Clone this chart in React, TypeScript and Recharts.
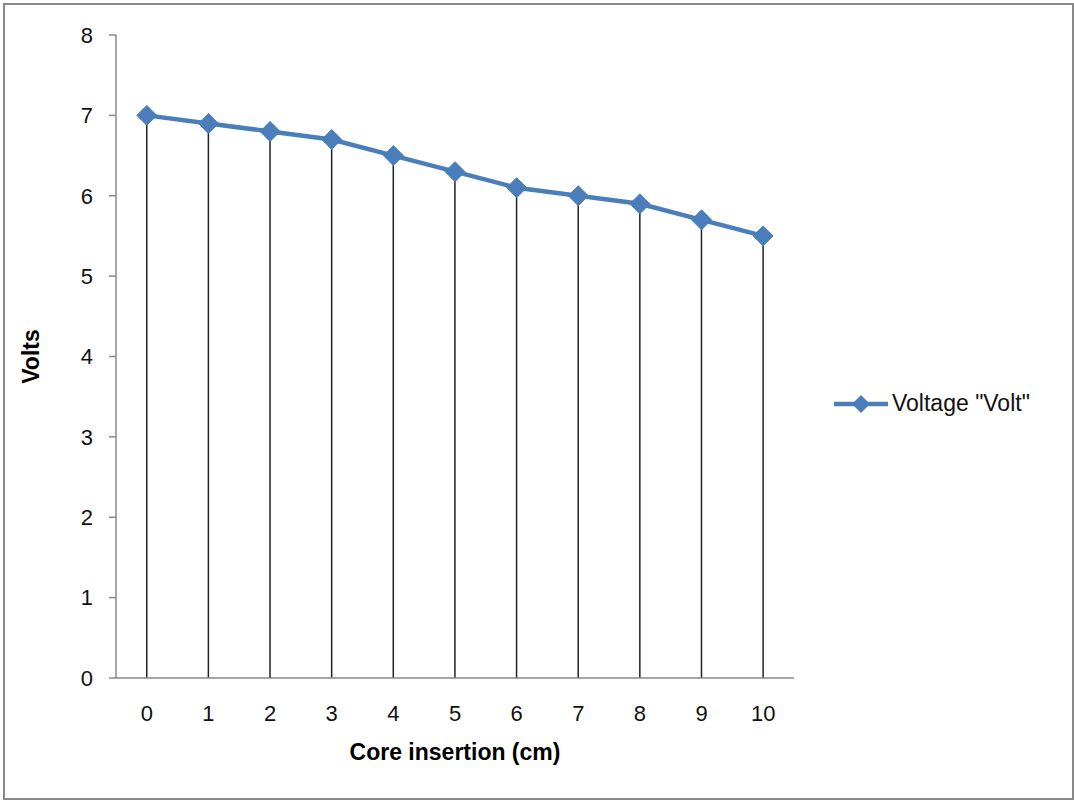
import React from "react"
import {
  ComposedChart,
  Line,
  Bar,
  XAxis,
  YAxis,
  Legend,
} from "recharts"

const insertion = ["0", "1", "2", "3", "4", "5", "6", "7", "8", "9", "10"]
const voltage = [7.0, 6.9, 6.8, 6.7, 6.5, 6.3, 6.1, 6.0, 5.9, 5.7, 5.5]
const yTicks = [0, 1, 2, 3, 4, 5, 6, 7, 8]
const seriesName = 'Voltage "Volt"'

const BLUE = "#4A7EBB"
const AXIS = "#898989"
const FONT = "'Liberation Sans', Arial, sans-serif"

const data = insertion.map((c, i) => ({ cm: c, volt: voltage[i] }))

// diamond marker like the Excel one
const Diamond = (props: any) => {
  const { cx, cy } = props
  if (cx == null || cy == null) return null
  const r = 10
  return (
    <polygon
      points={`${cx},${cy - r} ${cx + r},${cy} ${cx},${cy + r} ${cx - r},${cy}`}
      fill={BLUE}
      stroke={BLUE}
      strokeWidth={1}
    />
  )
}

const LegendBox = () => (
  <div style={{ display: "flex", alignItems: "center", fontFamily: FONT, fontSize: 23, color: "#111" }}>
    <svg width={58} height={24} style={{ marginRight: 2 }}>
      <line x1={2} y1={12} x2={56} y2={12} stroke={BLUE} strokeWidth={4.5} />
      <polygon points="29,3 38,12 29,21 20,12" fill={BLUE} />
    </svg>
    <span>{seriesName}</span>
  </div>
)

export default function App() {
  return (
    <div style={{ position: "absolute", left: 0, top: 0, width: 1074, height: 801, background: "#fff" }}>
      <div
        style={{
          position: "absolute",
          left: 3,
          top: 3,
          width: 1071,
          height: 797,
          border: `2px solid ${AXIS}`,
          boxSizing: "border-box",
        }}
      />
      <ComposedChart
        width={1074}
        height={801}
        data={data}
        margin={{ top: 35, right: 280, left: 56, bottom: 33 }}
        style={{ position: "absolute", left: 0, top: 0 }}
      >
        <XAxis
          dataKey="cm"
          height={90}
          tickLine={false}
          tickSize={0}
          tickMargin={27}
          axisLine={{ stroke: AXIS, strokeWidth: 1.5 }}
          tick={{ fontSize: 22, fill: "#111", fontFamily: FONT }}
          label={{
            value: "Core insertion (cm)",
            position: "insideBottom",
            offset: 8,
            style: { fontSize: 23, fontWeight: "bold", fill: "#000", fontFamily: FONT },
          }}
        />
        <YAxis
          width={60}
          domain={[0, 8]}
          ticks={yTicks}
          interval={0}
          tickSize={7}
          tickMargin={16}
          tickLine={{ stroke: AXIS, strokeWidth: 1.5 }}
          axisLine={{ stroke: AXIS, strokeWidth: 1.5 }}
          tick={{ fontSize: 22, fill: "#111", fontFamily: FONT }}
          label={{
            value: "Volts",
            angle: -90,
            position: "left",
            offset: 25,
            style: { fontSize: 23, fontWeight: "bold", fill: "#000", fontFamily: FONT, textAnchor: "middle" },
          }}
        />
        <Legend
          verticalAlign="middle"
          align="center"
          content={<LegendBox />}
          wrapperStyle={{ position: "absolute", left: 832, top: 390, width: 240 }}
        />
        {/* drop lines */}
        <Bar dataKey="volt" barSize={1.5} fill="#222" isAnimationActive={false} legendType="none" />
        <Line
          dataKey="volt"
          name={seriesName}
          stroke={BLUE}
          strokeWidth={4.5}
          dot={<Diamond />}
          activeDot={false}
          isAnimationActive={false}
        />
      </ComposedChart>
    </div>
  )
}
